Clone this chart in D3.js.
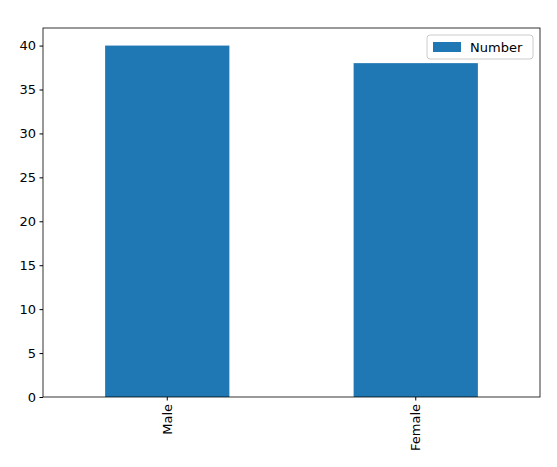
<!DOCTYPE html>
<html><head><meta charset="utf-8">
<script src="https://cdn.jsdelivr.net/npm/d3@7"></script>
<style>body{margin:0;background:#fff}text{font-family:"DejaVu Sans",sans-serif}</style>
</head><body><svg id="c" width="557" height="467"></svg>
<script>
const categories = ["Male", "Female"];
const numbers = [40, 38];
const yTicks = [0, 5, 10, 15, 20, 25, 30, 35, 40];

const svg = d3.select("#c");
const plotLeft = 43, plotRight = 540, plotTop = 28, plotBottom = 397;

const x = d3.scaleBand().domain(categories).range([plotLeft, plotRight]).paddingInner(0.5).paddingOuter(0.25);
const y = d3.scaleLinear().domain([0, 42]).range([plotBottom, plotTop]);

svg.append("g").selectAll("rect").data(categories).join("rect")
    .attr("x", d => x(d)).attr("width", x.bandwidth())
    .attr("y", (d, i) => y(numbers[i])).attr("height", (d, i) => plotBottom - y(numbers[i]))
    .attr("fill", "#1f77b4");

// y axis
const ya = svg.append("g").attr("transform", `translate(${plotLeft},0)`)
    .call(d3.axisLeft(y).tickValues(yTicks).tickSize(3.5).tickPadding(3.5));
ya.select(".domain").remove();
ya.selectAll("text").attr("font-size", 13).attr("fill", "#000").style("font-family", "DejaVu Sans");

// x axis
const xa = svg.append("g").attr("transform", `translate(0,${plotBottom})`)
    .call(d3.axisBottom(x).tickSize(3.5).tickSizeOuter(0));
xa.select(".domain").remove();
xa.selectAll("text").attr("font-size", 13).attr("fill", "#000").style("font-family", "DejaVu Sans")
    .attr("text-anchor", "end").attr("transform", "rotate(-90)")
    .attr("x", -7).attr("y", 0).attr("dy", "0.35em");

// frame
svg.append("rect").attr("x", plotLeft).attr("y", plotTop).attr("width", plotRight - plotLeft).attr("height", plotBottom - plotTop)
    .attr("fill", "none").attr("stroke", "#000").attr("stroke-width", 0.8);

// legend
const lg = svg.append("g");
lg.append("rect").attr("x", 427).attr("y", 35).attr("width", 106).attr("height", 24).attr("rx", 3)
    .attr("fill", "#fff").attr("fill-opacity", 0.8).attr("stroke", "#ccc");
lg.append("rect").attr("x", 433).attr("y", 42).attr("width", 28).attr("height", 10).attr("fill", "#1f77b4");
lg.append("text").attr("x", 470).attr("y", 51.5).attr("font-size", 13).text("Number");
</script></body></html>
